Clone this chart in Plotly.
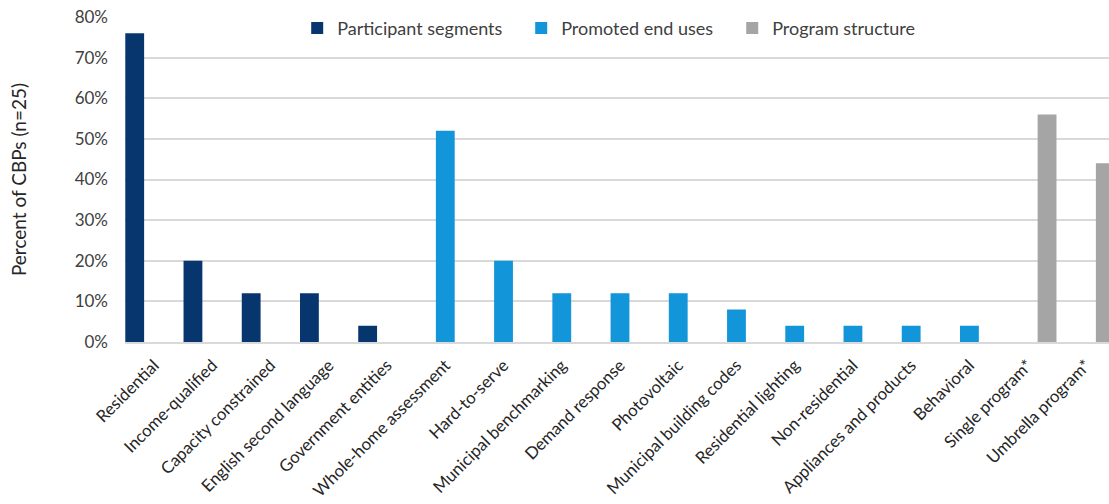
import plotly.graph_objects as go

categories = ["Residential", "Income-qualified", "Capacity constrained", "English second language",
              "Government entities", "Whole-home assessment", "Hard-to-serve", "Municipal benchmarking",
              "Demand response", "Photovoltaic", "Municipal building codes", "Residential lighting",
              "Non-residential", "Appliances and products", "Behavioral", "Single program*", "Umbrella program*"]

participant_segments = [0.76, 0.20, 0.12, 0.12, 0.04] + [None] * 12
promoted_end_uses = [None] * 5 + [0.52, 0.20, 0.12, 0.12, 0.12, 0.08, 0.04, 0.04, 0.04, 0.04] + [None] * 2
program_structure = [None] * 15 + [0.56, 0.44]

y_ticks = [0, 0.1, 0.2, 0.3, 0.4, 0.5, 0.6, 0.7, 0.8]

FONT = "Lato"

fig = go.Figure()
fig.add_trace(go.Bar(name="Participant segments", x=categories, y=participant_segments,
                     marker=dict(color="#07366F", line=dict(width=0)), legendwidth=179))
fig.add_trace(go.Bar(name="Promoted end uses", x=categories, y=promoted_end_uses,
                     marker=dict(color="#1395D9", line=dict(width=0)), legendwidth=166))
fig.add_trace(go.Bar(name="Program structure", x=categories, y=program_structure,
                     marker=dict(color="#A5A5A5", line=dict(width=0))))

fig.update_layout(
    width=1109, height=504,
    margin=dict(l=125, r=0, t=17, b=162, autoexpand=False),
    barmode="group", bargap=0, bargroupgap=0.03,
    plot_bgcolor="white", paper_bgcolor="white",
    font=dict(family=FONT, size=16, color="#404040"),
    legend=dict(orientation="h", x=0.175, y=0.965, xanchor="left", yanchor="middle",
                font=dict(family=FONT, size=18, color="#404040"),
                bgcolor="rgba(255,255,255,0)", itemwidth=30, tracegroupgap=0),
    showlegend=True,
)
fig.update_xaxes(
    range=[-0.5, 16.397], tickangle=-45, showgrid=False,
    showline=True, linecolor="#D9D9D9", linewidth=2,
    tickfont=dict(family=FONT, size=16.8, color="#262626"),
    ticklabelstandoff=5, automargin=False,
)
fig.update_yaxes(
    range=[0, 0.8], tickvals=y_ticks, tickformat=".0%",
    showgrid=True, gridcolor="#D9D9D9", gridwidth=1.5, zeroline=False,
    tickfont=dict(family=FONT, size=17, color="#404040"),
    ticklabelstandoff=16, automargin=False,
    title=dict(text="Percent of CBPs (n=25)", font=dict(family=FONT, size=19, color="#262626"), standoff=42),
)

fig.write_html("out.html")
